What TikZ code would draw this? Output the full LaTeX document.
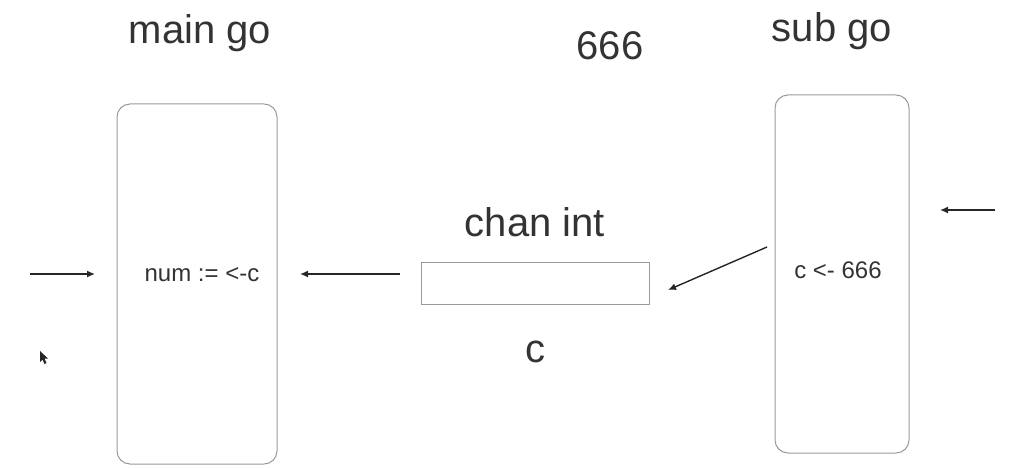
\documentclass[tikz,border=0pt]{standalone}
\usepackage{fontspec}
\setmainfont{Liberation Sans}
\usetikzlibrary{arrows.meta}
\usetikzlibrary{positioning}

\begin{document}
\begin{tikzpicture}[x=1pt,y=-1pt,>={Latex[length=8pt,width=7pt]},
    routine/.style={draw=black!40,line width=1pt,rounded corners=13pt},
    title/.style={text=black!80,font=\fontsize{40}{48}\selectfont},
    code/.style={text=black!80,font=\fontsize{24}{29}\selectfont},
    flow/.style={->,line width=1.4pt,black!85}]
  \useasboundingbox (0,0) rectangle (1022,468);
  % goroutines and the channel
  \node (main) [routine,minimum width=160pt,minimum height=360pt] at (197,284) {};
  \node (sub) [routine,minimum width=134pt,minimum height=358pt] at (842,274) {};
  \node (chan) [draw=black!40,line width=1pt,minimum width=228pt,minimum height=42pt] at (535,283) {};
  % labels
  \node (maintitle) [title] at (200,33) {main go};
  \node (subtitle) [title] at (832,31) {sub go};
  \node (value) [title] at (610,46) {666};
  \node (chantype) [title] at (535,222) {chan int};
  \node (channame) [title] at (535,352) {c};
  \node (recv) [code] at (202,275) {num := <-c};
  \node (send) [code] at (838,270) {c <- 666};
  % arrows
  \coordinate (inL) at (30,274);
  \coordinate (inLend) at (95,274);
  \coordinate (outC) at (400,274);
  \coordinate (outCend) at (300,274);
  \coordinate (subout) at (767,247);
  \coordinate (chanin) at (668,290);
  \coordinate (inR) at (995,210);
  \coordinate (inRend) at (940,210);
  \draw[flow] (inL) -- (inLend);
  \draw[flow] (outC) -- (outCend);
  \draw[flow] (subout) -- (chanin);
  \draw[flow] (inR) -- (inRend);
  % pointer
  \fill[black!85] (40,351) -- (40,362) -- (42.5,359.5) -- (44.5,364) -- (46.5,363) -- (44.5,358.5) -- (48,358.5) -- cycle;
\end{tikzpicture}
\end{document}
